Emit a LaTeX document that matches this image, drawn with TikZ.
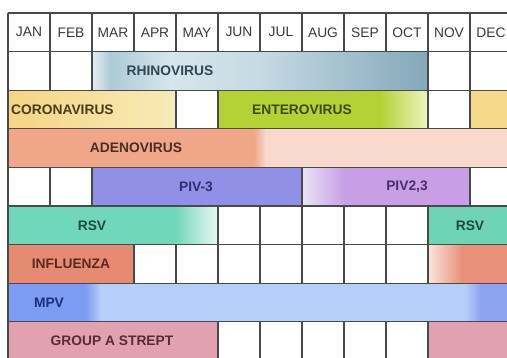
\documentclass[tikz,border=0pt]{standalone}
\usepackage{fontspec}
\setmainfont{Liberation Sans}
\definecolor{gridc}{HTML}{4A4A4A}
\definecolor{hdrc}{HTML}{3A3A3A}
\definecolor{rhA}{HTML}{E4EEF2}
\definecolor{rhB}{HTML}{ADCAD7}
\definecolor{rhC}{HTML}{D6E6EC}
\definecolor{rhD}{HTML}{C5DAE3}
\definecolor{rhE}{HTML}{84A8BA}
\definecolor{coA}{HTML}{F5D583}
\definecolor{coB}{HTML}{F8EBB8}
\definecolor{coD}{HTML}{F7D98B}
\definecolor{enA}{HTML}{B4D236}
\definecolor{enB}{HTML}{EFF5C2}
\definecolor{adA}{HTML}{EFA689}
\definecolor{adB}{HTML}{F8D9CC}
\definecolor{pvC}{HTML}{9190E7}
\definecolor{pvA}{HTML}{E9E3F5}
\definecolor{pvB}{HTML}{C89FE6}
\definecolor{rsA}{HTML}{70D7BA}
\definecolor{rsB}{HTML}{E8F8F2}
\definecolor{rsR}{HTML}{6FD4B6}
\definecolor{flA}{HTML}{E78A72}
\definecolor{flW}{HTML}{F9E6DF}
\definecolor{flR}{HTML}{E9917A}
\definecolor{mpA}{HTML}{7C9BF2}
\definecolor{mpB}{HTML}{B6CEFA}
\definecolor{mpC}{HTML}{8CA3F2}
\definecolor{gaA}{HTML}{E2A1B1}
\definecolor{rhT}{HTML}{2F4656}
\definecolor{coT}{HTML}{4A3A1E}
\definecolor{enT}{HTML}{3C4A14}
\definecolor{adT}{HTML}{4A2E28}
\definecolor{pvT}{HTML}{2E2E6E}
\definecolor{ppT}{HTML}{4A2E6A}
\definecolor{rsT}{HTML}{1E4A40}
\definecolor{flT}{HTML}{5A2A20}
\definecolor{mpT}{HTML}{1E2E7A}
\definecolor{gaT}{HTML}{5A2A35}
\tikzset{
  gridline/.style={draw=gridc, line width=1.3pt},
  hdr/.style={font=\fontsize{13.8}{15}\selectfont, text=hdrc, inner sep=0pt},
  lbl/.style={font=\bfseries\fontsize{13.8}{15}\selectfont, inner sep=0pt},
}
\begin{document}
\begin{tikzpicture}[x=1pt,y=-1pt]
\useasboundingbox (0,0) rectangle (507,358);
\clip (0,0) rectangle (507,358);
\fill[white] (0,0) rectangle (507,358);
% base grid
\foreach \i in {0,...,12} \draw[gridline] ({8+42*\i},13) -- ({8+42*\i},360.4);
\foreach \r in {0,...,9} \draw[gridline] (8,{13+38.6*\r}) -- (512,{13+38.6*\r});
% header
\foreach \m [count=\i from 0] in {JAN,FEB,MAR,APR,MAY,JUN,JUL,AUG,SEP,OCT,NOV,DEC}
  \node[hdr] (h\i) at ({29+42*\i},32.3) {\m};
% Rhinovirus
\shade[left color=rhA,right color=rhB] (92,51.6) rectangle (111,90.2);
\shade[left color=rhB,right color=rhC] (110,51.6) rectangle (171,90.2);
\shade[left color=rhC,right color=rhD] (170,51.6) rectangle (261,90.2);
\shade[left color=rhD,right color=rhE] (260,51.6) rectangle (428,90.2);
\draw[gridline] (92,51.6) rectangle (428,90.2);
\node[lbl,text=rhT] (rhino) at (170,70.9) {RHINOVIRUS};
% Coronavirus
\shade[left color=coA,right color=coB] (8,90.2) rectangle (176,128.8);
\draw[gridline] (8,90.2) rectangle (176,128.8);
\node[lbl,text=coT,anchor=west] (corona) at (11,109.5) {CORONAVIRUS};
\fill[coD] (470,90.2) rectangle (512,128.8);
\draw[gridline] (470,90.2) rectangle (512,128.8);
% Enterovirus
\fill[enA] (218,90.2) rectangle (381,128.8);
\shade[left color=enA,right color=enB] (380,90.2) rectangle (428,128.8);
\draw[gridline] (218,90.2) rectangle (428,128.8);
\node[lbl,text=enT] (entero) at (302,109.5) {ENTEROVIRUS};
% Adenovirus
\fill[adA] (8,128.8) rectangle (255,167.4);
\shade[left color=adA,right color=adB] (254,128.8) rectangle (266,167.4);
\fill[adB] (265,128.8) rectangle (512,167.4);
\draw[gridline] (8,128.8) rectangle (512,167.4);
\node[lbl,text=adT] (adeno) at (136,148.1) {ADENOVIRUS};
% PIV-3
\fill[pvC] (92,167.4) rectangle (302,206);
\draw[gridline] (92,167.4) rectangle (302,206);
\node[lbl,text=pvT] (piv3) at (196,186.7) {PIV-3};
% PIV2,3
\shade[left color=pvA,right color=pvB] (302,167.4) rectangle (345,206);
\fill[pvB] (344,167.4) rectangle (470,206);
\draw[gridline] (302,167.4) rectangle (470,206);
\node[lbl,text=ppT] (piv23) at (407,186.7) {PIV2,3};
% RSV
\fill[rsA] (8,206) rectangle (176,244.6);
\shade[left color=rsA,right color=rsB] (175,206) rectangle (218,244.6);
\draw[gridline] (8,206) rectangle (218,244.6);
\node[lbl,text=rsT] (rsvL) at (92,225.3) {RSV};
\fill[rsR] (428,206) rectangle (512,244.6);
\draw[gridline] (428,206) rectangle (512,244.6);
\node[lbl,text=rsT] (rsvR) at (470,225.3) {RSV};
% Influenza
\fill[flA] (8,244.6) rectangle (134,283.2);
\draw[gridline] (8,244.6) rectangle (134,283.2);
\node[lbl,text=flT] (fluL) at (71,263.9) {INFLUENZA};
\shade[left color=flW,right color=flR] (428,244.6) rectangle (462,283.2);
\fill[flR] (461,244.6) rectangle (512,283.2);
\draw[gridline] (428,244.6) rectangle (512,283.2);
% MPV
\fill[mpA] (8,283.2) rectangle (86,321.8);
\shade[left color=mpA,right color=mpB] (85,283.2) rectangle (101,321.8);
\fill[mpB] (100,283.2) rectangle (466,321.8);
\shade[left color=mpB,right color=mpC] (465,283.2) rectangle (481,321.8);
\fill[mpC] (480,283.2) rectangle (512,321.8);
\draw[gridline] (8,283.2) rectangle (512,321.8);
\node[lbl,text=mpT] (mpv) at (49,302.5) {MPV};
% Group A strept
\fill[gaA] (8,321.8) rectangle (218,360.4);
\draw[gridline] (8,321.8) rectangle (218,360.4);
\node[lbl,text=gaT] (gas) at (112,341.1) {GROUP A STREPT};
\fill[gaA] (428,321.8) rectangle (512,360.4);
\draw[gridline] (428,321.8) rectangle (512,360.4);
\end{tikzpicture}
\end{document}
